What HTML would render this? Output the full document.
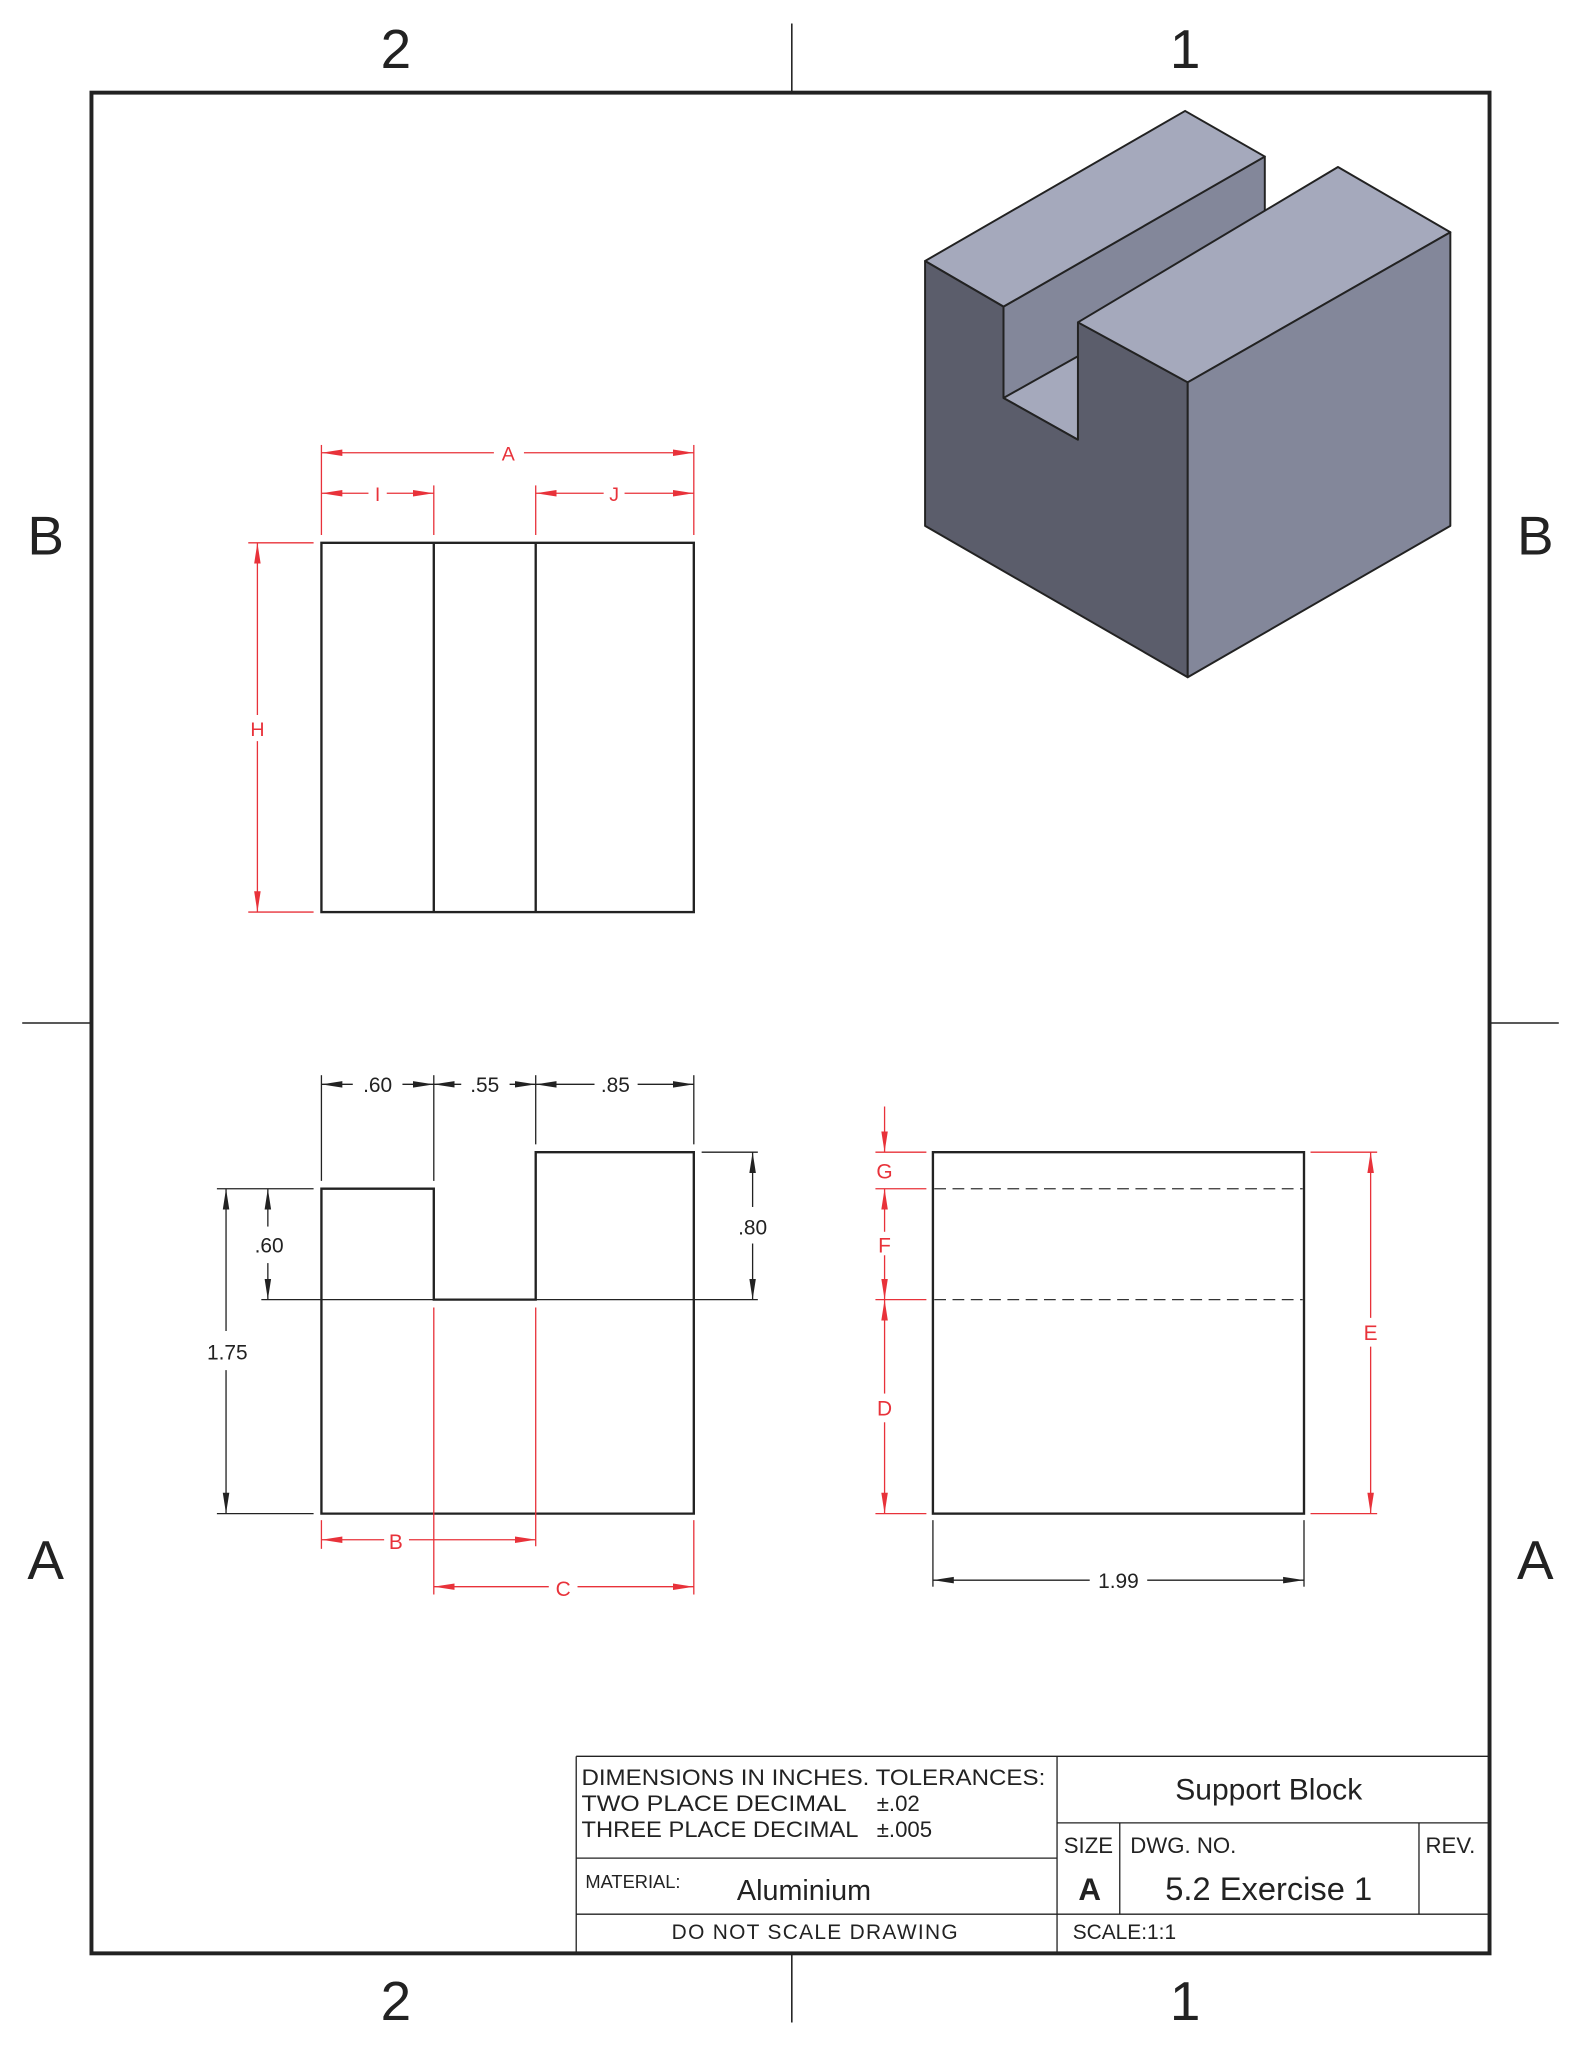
<!DOCTYPE html>
<html><head><meta charset="utf-8"><style>html,body{margin:0;padding:0;background:#fff}svg{display:block}</style></head><body>
<svg width="1581" height="2046" viewBox="0 0 1210 1568" preserveAspectRatio="none" xmlns="http://www.w3.org/2000/svg" font-family="Liberation Sans, sans-serif">
<defs>
<marker id="ak" viewBox="0 0 16 6" refX="16" refY="3" markerWidth="16" markerHeight="6" markerUnits="userSpaceOnUse" orient="auto-start-reverse"><path d="M0,0.5 L16,3 L0,5.5 Z" fill="#222"/></marker>
<marker id="ar" viewBox="0 0 16 6" refX="16" refY="3" markerWidth="16" markerHeight="6" markerUnits="userSpaceOnUse" orient="auto-start-reverse"><path d="M0,0.5 L16,3 L0,5.5 Z" fill="#e8323a"/></marker>
</defs>
<rect width="1210" height="1568" fill="#fff"/>
<rect x="70" y="71" width="1070" height="1426" fill="none" stroke="#222" stroke-width="3"/>
<g stroke="#222" stroke-width="1.2">
<line x1="606" y1="18" x2="606" y2="71"/><line x1="606" y1="1497" x2="606" y2="1550"/>
<line x1="17" y1="784" x2="70" y2="784"/><line x1="1140" y1="784" x2="1193" y2="784"/>
</g>
<g fill="#222" font-size="42" text-anchor="middle">
<text x="303" y="52">2</text><text x="907" y="52">1</text>
<text x="303" y="1548">2</text><text x="907" y="1548">1</text>
<text x="35" y="425">B</text><text x="1175" y="425">B</text>
<text x="35" y="1210">A</text><text x="1175" y="1210">A</text>
</g>
<g stroke="#222" stroke-width="1.5" stroke-linejoin="round">
<polygon points="768,235 968,120 968,170 825,250 825,337 768,305" fill="#83879a"/>
<polygon points="768,305 825,273 825,337" fill="#a5a9bc"/>
<polygon points="708,200 907,85 968,120 768,235" fill="#a5a9bc"/>
<polygon points="708,200 768,235 768,305 825,337 825,247 909,293 909,519 708,403" fill="#5b5d6b"/>
<polygon points="825,247 1024,128 1110,178 909,293" fill="#a5a9bc"/>
<polygon points="909,293 1110,178 1110,403 909,519" fill="#83879a"/>
</g>
<g stroke="#222" stroke-width="1.8" fill="none">
<rect x="246" y="416" width="285" height="283"/>
<line x1="332" y1="416" x2="332" y2="699"/><line x1="410" y1="416" x2="410" y2="699"/>
</g>
<g stroke="#e8323a" stroke-width="1" fill="none">
<line x1="246" y1="341" x2="246" y2="410"/><line x1="531" y1="341" x2="531" y2="410"/>
<line x1="332" y1="372" x2="332" y2="410"/><line x1="410" y1="372" x2="410" y2="410"/>
<line x1="246" y1="347" x2="378" y2="347" marker-start="url(#ar)"/><line x1="401" y1="347" x2="531" y2="347" marker-end="url(#ar)"/>
<line x1="246" y1="378" x2="282" y2="378" marker-start="url(#ar)"/><line x1="296" y1="378" x2="332" y2="378" marker-end="url(#ar)"/>
<line x1="410" y1="378" x2="462" y2="378" marker-start="url(#ar)"/><line x1="478" y1="378" x2="531" y2="378" marker-end="url(#ar)"/>
<line x1="190" y1="416" x2="240" y2="416"/><line x1="190" y1="699" x2="240" y2="699"/>
<line x1="197" y1="416" x2="197" y2="548" marker-start="url(#ar)"/><line x1="197" y1="568" x2="197" y2="699" marker-end="url(#ar)"/>
</g>
<g fill="#e8323a" font-size="15" text-anchor="middle">
<text x="389" y="353">A</text><text x="289" y="384">I</text><text x="470" y="384">J</text><text x="197" y="564">H</text>
</g>
<polygon points="246,911 332,911 332,996 410,996 410,883 531,883 531,1160 246,1160" fill="none" stroke="#222" stroke-width="1.8"/>
<g stroke="#222" stroke-width="1" fill="none">
<line x1="246" y1="824" x2="246" y2="905"/><line x1="332" y1="824" x2="332" y2="905"/><line x1="410" y1="824" x2="410" y2="877"/><line x1="531" y1="824" x2="531" y2="877"/>
<line x1="246" y1="831" x2="270" y2="831" marker-start="url(#ak)"/><line x1="308" y1="831" x2="332" y2="831" marker-end="url(#ak)"/>
<line x1="332" y1="831" x2="353" y2="831" marker-start="url(#ak)"/><line x1="390" y1="831" x2="410" y2="831" marker-end="url(#ak)"/>
<line x1="410" y1="831" x2="455" y2="831" marker-start="url(#ak)"/><line x1="488" y1="831" x2="531" y2="831" marker-end="url(#ak)"/>
<line x1="166" y1="911" x2="240" y2="911"/><line x1="200" y1="996" x2="580" y2="996"/><line x1="537" y1="883" x2="580" y2="883"/><line x1="166" y1="1160" x2="240" y2="1160"/>
<line x1="205" y1="911" x2="205" y2="940" marker-start="url(#ak)"/><line x1="205" y1="968" x2="205" y2="996" marker-end="url(#ak)"/>
<line x1="576" y1="883" x2="576" y2="925" marker-start="url(#ak)"/><line x1="576" y1="953" x2="576" y2="996" marker-end="url(#ak)"/>
<line x1="173" y1="911" x2="173" y2="1020" marker-start="url(#ak)"/><line x1="173" y1="1050" x2="173" y2="1160" marker-end="url(#ak)"/>
</g>
<g fill="#222" font-size="16" text-anchor="middle">
<text x="289" y="837">.60</text><text x="371" y="837">.55</text><text x="471" y="837">.85</text>
<text x="206" y="960">.60</text><text x="576" y="946">.80</text><text x="174" y="1042">1.75</text>
</g>
<g stroke="#e8323a" stroke-width="1" fill="none">
<line x1="332" y1="1002" x2="332" y2="1222"/><line x1="410" y1="1002" x2="410" y2="1185"/>
<line x1="246" y1="1165" x2="246" y2="1187"/><line x1="531" y1="1165" x2="531" y2="1222"/>
<line x1="246" y1="1180" x2="294" y2="1180" marker-start="url(#ar)"/><line x1="313" y1="1180" x2="410" y2="1180" marker-end="url(#ar)"/>
<line x1="332" y1="1216" x2="420" y2="1216" marker-start="url(#ar)"/><line x1="442" y1="1216" x2="531" y2="1216" marker-end="url(#ar)"/>
</g>
<g fill="#e8323a" font-size="16" text-anchor="middle">
<text x="303" y="1187">B</text><text x="431" y="1223">C</text>
</g>
<rect x="714" y="883" width="284" height="277" fill="none" stroke="#222" stroke-width="1.8"/>
<g stroke="#333" stroke-width="1" stroke-dasharray="9,5">
<line x1="715" y1="911" x2="997" y2="911"/><line x1="715" y1="996" x2="997" y2="996"/>
</g>
<g stroke="#e8323a" stroke-width="1" fill="none">
<line x1="670" y1="883" x2="709" y2="883"/><line x1="670" y1="911" x2="709" y2="911"/><line x1="670" y1="996" x2="709" y2="996"/><line x1="670" y1="1160" x2="709" y2="1160"/>
<line x1="677" y1="848" x2="677" y2="883" marker-end="url(#ar)"/>
<line x1="677" y1="911" x2="677" y2="944" marker-start="url(#ar)"/><line x1="677" y1="962" x2="677" y2="996" marker-end="url(#ar)"/>
<line x1="677" y1="996" x2="677" y2="1068" marker-start="url(#ar)"/><line x1="677" y1="1090" x2="677" y2="1160" marker-end="url(#ar)"/>
<line x1="1003" y1="883" x2="1054" y2="883"/><line x1="1003" y1="1160" x2="1054" y2="1160"/>
<line x1="1049" y1="883" x2="1049" y2="1010" marker-start="url(#ar)"/><line x1="1049" y1="1032" x2="1049" y2="1160" marker-end="url(#ar)"/>
</g>
<g fill="#e8323a" font-size="16" text-anchor="middle">
<text x="677" y="903">G</text><text x="677" y="960">F</text><text x="677" y="1085">D</text><text x="1049" y="1027">E</text>
</g>
<g stroke="#222" stroke-width="1" fill="none">
<line x1="714" y1="1165" x2="714" y2="1216"/><line x1="998" y1="1165" x2="998" y2="1216"/>
<line x1="714" y1="1211" x2="834" y2="1211" marker-start="url(#ak)"/><line x1="878" y1="1211" x2="998" y2="1211" marker-end="url(#ak)"/>
</g>
<text x="856" y="1217" fill="#222" font-size="16" text-anchor="middle">1.99</text>
<g stroke="#222" stroke-width="1" fill="none">
<line x1="441" y1="1346" x2="1140" y2="1346"/>
<line x1="441" y1="1346" x2="441" y2="1497"/>
<line x1="809" y1="1346" x2="809" y2="1497"/>
<line x1="441" y1="1424" x2="809" y2="1424"/>
<line x1="441" y1="1467" x2="1140" y2="1467"/>
<line x1="809" y1="1397" x2="1140" y2="1397"/>
<line x1="857" y1="1397" x2="857" y2="1467"/>
<line x1="1086" y1="1397" x2="1086" y2="1467"/>
</g>
<g fill="#222">
<text x="445" y="1368" font-size="17" textLength="355" lengthAdjust="spacingAndGlyphs">DIMENSIONS IN INCHES.  TOLERANCES:</text>
<text x="445" y="1388" font-size="17" textLength="203" lengthAdjust="spacingAndGlyphs">TWO PLACE DECIMAL</text>
<text x="671" y="1388" font-size="17">±.02</text>
<text x="445" y="1408" font-size="17" textLength="212" lengthAdjust="spacingAndGlyphs">THREE PLACE DECIMAL</text>
<text x="671" y="1408" font-size="17">±.005</text>
<text x="448" y="1447" font-size="14">MATERIAL:</text>
<text x="564" y="1456" font-size="22">Aluminium</text>
<text x="624" y="1486" font-size="16" text-anchor="middle" letter-spacing="1">DO  NOT  SCALE  DRAWING</text>
<text x="971" y="1379" font-size="23" text-anchor="middle">Support Block</text>
<text x="833" y="1420" font-size="17" text-anchor="middle">SIZE</text>
<text x="865" y="1420" font-size="17">DWG.  NO.</text>
<text x="1091" y="1420" font-size="17">REV.</text>
<text x="834" y="1456" font-size="24" font-weight="bold" text-anchor="middle">A</text>
<text x="971" y="1456" font-size="25" text-anchor="middle">5.2 Exercise 1</text>
<text x="821" y="1486" font-size="16">SCALE:1:1</text>
</g>
</svg>
</body></html>
